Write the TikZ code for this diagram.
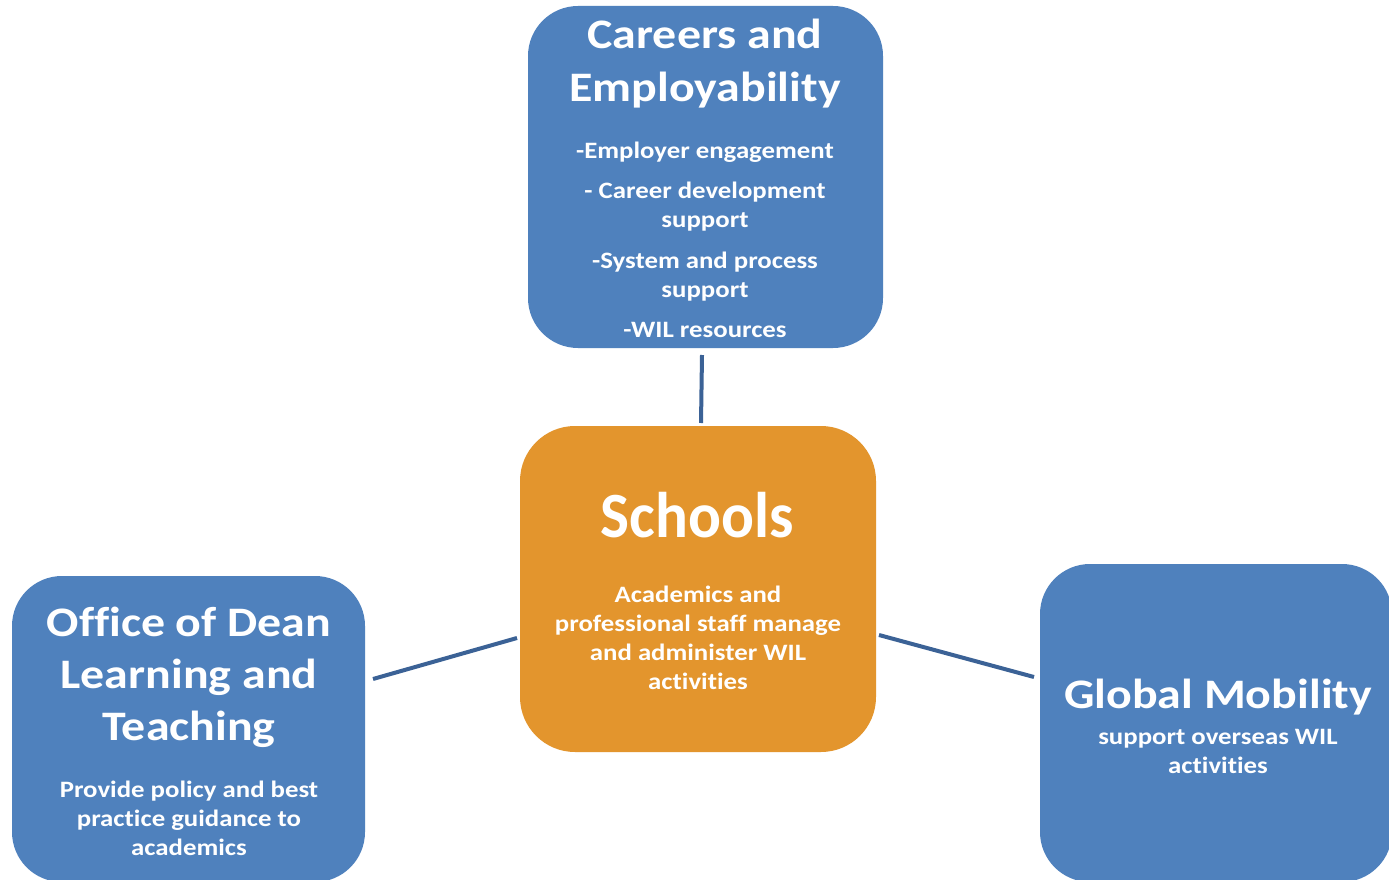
\documentclass[tikz,border=0pt]{standalone}
\usepackage{fontspec}
\setmainfont{Carlito}
\newfontfamily\widefont[FakeStretch=1.14, Ligatures=NoCommon]{Carlito}
\newfontfamily\narrowfont[FakeStretch=0.95, Ligatures=NoCommon]{Carlito}
\begin{document}
\begin{tikzpicture}[x=1pt,y=-1pt,
  bluebox/.style={fill=boxblue, draw=none, rounded corners=50pt, inner sep=0pt},
  orangebox/.style={fill=boxorange, draw=none, rounded corners=55pt, inner sep=0pt},
  ttl/.style={text=white, font=\widefont\fontsize{42}{50}\selectfont\bfseries, inner sep=0pt, anchor=base},
  big/.style={text=white, font=\narrowfont\fontsize{64.5}{76}\selectfont\bfseries, inner sep=0pt, anchor=base},
  body/.style={text=white, font=\widefont\fontsize{23.5}{28}\selectfont\bfseries, inner sep=0pt, anchor=base},
  link/.style={draw=linkblue, line width=4pt}]
\definecolor{boxblue}{HTML}{4F81BD}
\definecolor{boxorange}{HTML}{E3952D}
\definecolor{linkblue}{HTML}{3B6296}
\clip (0,0) rectangle (1389,880);
\fill[white] (0,0) rectangle (1389,880);

% boxes
\node[bluebox, minimum width=355pt, minimum height=342pt] (car) at (705.5,177) {};
\node[orangebox, minimum width=356pt, minimum height=326pt] (sch) at (698,589) {};
\node[bluebox, minimum width=353pt, minimum height=306pt] (off) at (188.5,729) {};
\node[bluebox, minimum width=352pt, minimum height=318pt] (glob) at (1216,723) {};

% careers text
\node[ttl] (c1) at (705,49) {Careers and};
\node[ttl] (c2) at (705,102) {Employability};
\node[body] (c3) at (705,158) {-Employer engagement};
\node[body] (c4) at (705,198) {- Career development};
\node[body] (c5) at (705,227) {support};
\node[body] (c6) at (705,268) {-System and process};
\node[body] (c7) at (705,297) {support};
\node[body] (c8) at (705,337) {-WIL resources};

% schools text
\node[big] (s1) at (697,537) {Schools};
\node[body] (s2) at (698,602) {Academics and};
\node[body] (s3) at (698,631) {professional staff manage};
\node[body] (s4) at (698,660) {and administer WIL};
\node[body] (s5) at (698,689) {activities};

% office text
\node[ttl] (o1) at (189,636) {Office of Dean};
\node[ttl] (o2) at (189,688) {Learning and};
\node[ttl] (o3) at (189,740) {Teaching};
\node[body] (o4) at (189,797) {Provide policy and best};
\node[body] (o5) at (189,826) {practice guidance to};
\node[body] (o6) at (189,855) {academics};

% global text
\node[ttl] (g1) at (1218,708) {Global Mobility};
\node[body] (g2) at (1218,744) {support overseas WIL};
\node[body] (g3) at (1218,773) {activities};

% connectors
\coordinate (a1) at (702,355);
\coordinate (a2) at (701,423);
\coordinate (b1) at (373,679);
\coordinate (b2) at (517,638);
\coordinate (d1) at (879,635);
\coordinate (d2) at (1034,677);
\draw[link] (a1) -- (a2);
\draw[link] (b1) -- (b2);
\draw[link] (d1) -- (d2);
\end{tikzpicture}
\end{document}
